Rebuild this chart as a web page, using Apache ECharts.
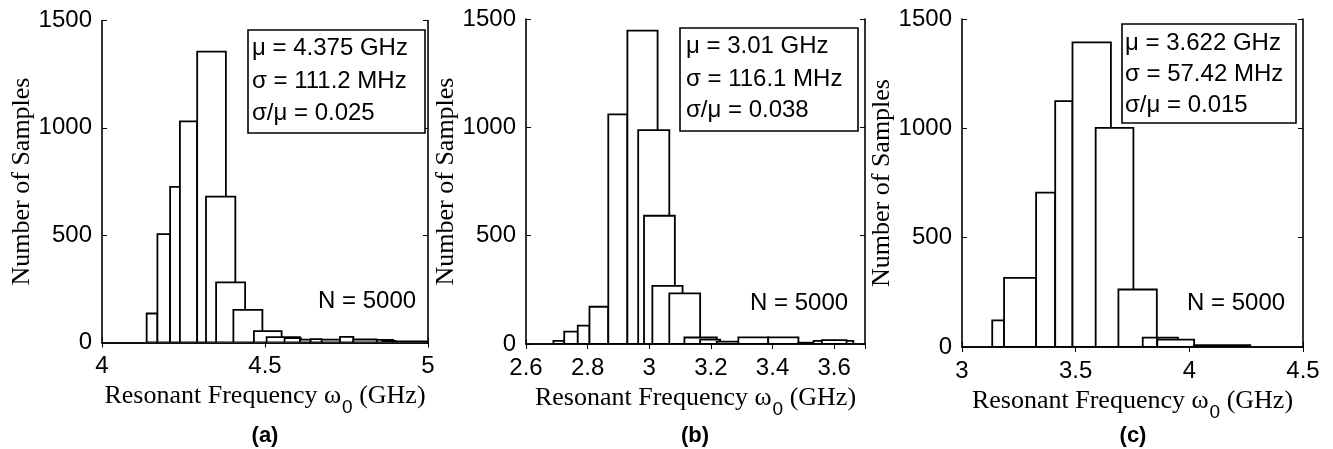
<!DOCTYPE html>
<html><head><meta charset="utf-8">
<script src="https://cdn.jsdelivr.net/npm/echarts@6/dist/echarts.min.js"></script>
<style>html,body{margin:0;padding:0;background:#fff}#c{width:1333px;height:449px}</style>
</head><body><div id="c"></div>
<script>
// Histogram bars: [binStart (GHz), binEnd (GHz), count], in drawing order
const histA = [
  [4.137,4.170,135],[4.170,4.209,505],[4.209,4.239,725],[4.239,4.292,1030],
  [4.292,4.380,1355],[4.319,4.409,680],[4.350,4.439,280],[4.403,4.492,152],
  [4.466,4.551,53],[4.505,4.607,25],[4.560,4.610,20],[4.607,4.640,13],
  [4.640,4.674,16],[4.674,4.730,13],[4.730,4.771,26],[4.771,4.843,14],
  [4.843,4.893,12],[4.860,4.900,8],[4.893,4.996,5]
];
const histB = [
  [2.689,2.724,14],[2.724,2.768,57],[2.768,2.806,85],[2.806,2.867,172],
  [2.867,2.929,1060],[2.929,3.027,1446],[2.964,3.065,987],[2.983,3.083,592],
  [3.010,3.108,268],[3.065,3.165,234],[3.114,3.219,30],[3.165,3.230,20],
  [3.219,3.289,11],[3.289,3.386,31],[3.386,3.484,31],[3.484,3.533,6],
  [3.533,3.662,14],[3.560,3.640,18]
];
const histC = [
  [3.133,3.185,122],[3.185,3.326,316],[3.326,3.410,706],[3.410,3.486,1124],
  [3.486,3.655,1393],[3.588,3.754,1002],[3.688,3.857,263],[3.795,3.859,43],
  [3.859,3.950,43],[3.859,4.021,34],[4.021,4.268,8],[4.030,4.250,5]
];
const xRanges = [[4, 5, 0.5], [2.6, 3.7, 0.2], [3, 4.5, 0.5]];
const yRange = [0, 1500, 500];
const statsText = [
  ['μ = 4.375 GHz', 'σ = 111.2 MHz', 'σ/μ = 0.025'],
  ['μ = 3.01 GHz', 'σ = 116.1 MHz', 'σ/μ = 0.038'],
  ['μ = 3.622 GHz', 'σ = 57.42 MHz', 'σ/μ = 0.015']
];
const nText = 'N = 5000';
const panelLabels = ['(a)', '(b)', '(c)'];
const xTitle = 'Resonant Frequency ω';
const yTitle = 'Number of Samples';

const hists = [histA, histB, histC];
const grids = [
  {left: 102, top: 20.5, width: 326, height: 322},
  {left: 526, top: 19, width: 339, height: 325},
  {left: 962, top: 19, width: 341, height: 328}
];
const boxes = [
  {x: 248, y: 30, w: 177, h: 103, tx: 252, ly: [48, 81.5, 113]},
  {x: 680, y: 28, w: 178, h: 103, tx: 686, ly: [46.5, 79.5, 110.5]},
  {x: 1122, y: 24, w: 174, h: 99, tx: 1125, ly: [43, 74, 105]}
];
const nPos = [[318, 301], [750, 303], [1187, 303]];
const subPos = [[265, 436], [695, 436], [1133, 436]];

const sans = 'Liberation Sans';
const serif = 'Liberation Serif';
const lineStyle = {color: '#000', width: 1.6};
const plain = v => String(Math.round(v * 1000) / 1000);

const option = {
  backgroundColor: '#fff',
  animation: false,
  grid: grids.map(g => Object.assign({containLabel: false}, g)),
  xAxis: [], yAxis: [], series: [], graphic: []
};

grids.forEach((g, i) => {
  const [xmin, xmax, xint] = xRanges[i];
  option.xAxis.push({
    type: 'value', gridIndex: i, min: xmin, max: xmax, interval: xint, position: 'bottom',
    axisLine: {show: true, lineStyle}, splitLine: {show: false},
    axisTick: {show: true, inside: true, length: 5, lineStyle: {color: '#000'}},
    axisLabel: {color: '#000', fontFamily: sans, fontSize: 24, margin: 12, showMaxLabel: i !== 1, formatter: plain},
    name: '{t|' + xTitle + '}{s|0}{t| (GHz)}', nameLocation: 'middle', nameGap: 38,
    nameTextStyle: {rich: {
      t: {fontFamily: serif, fontSize: 26, color: '#000', lineHeight: 30, verticalAlign: 'top'},
      s: {fontFamily: sans, fontSize: 19, color: '#000', lineHeight: 20, padding: [15, 0, 0, 1], verticalAlign: 'top'}
    }}
  });
  option.xAxis.push({
    type: 'value', gridIndex: i, min: xmin, max: xmax, interval: xint, position: 'top',
    axisLine: {show: true, lineStyle}, splitLine: {show: false},
    axisTick: {show: true, inside: true, length: 5, lineStyle: {color: '#000'}},
    axisLabel: {show: false}
  });
  option.yAxis.push({
    type: 'value', gridIndex: i, min: yRange[0], max: yRange[1], interval: yRange[2], position: 'left',
    axisLine: {show: true, lineStyle}, splitLine: {show: false},
    axisTick: {show: true, inside: true, length: 5, lineStyle: {color: '#000'}},
    axisLabel: {color: '#000', fontFamily: sans, fontSize: 24, margin: 10, formatter: plain},
    name: yTitle, nameLocation: 'middle', nameGap: 66,
    nameTextStyle: {fontFamily: serif, fontSize: 26, color: '#000'}
  });
  option.yAxis.push({
    type: 'value', gridIndex: i, min: yRange[0], max: yRange[1], interval: yRange[2], position: 'right',
    axisLine: {show: true, lineStyle}, splitLine: {show: false},
    axisTick: {show: true, inside: true, length: 5, lineStyle: {color: '#000'}},
    axisLabel: {show: false}
  });
  option.series.push({
    type: 'custom', xAxisIndex: 2 * i, yAxisIndex: 2 * i, clip: true,
    encode: {x: [0, 1], y: 2},
    data: hists[i],
    renderItem: function (params, api) {
      const p0 = api.coord([api.value(0), api.value(2)]);
      const p1 = api.coord([api.value(1), 0]);
      return {
        type: 'rect',
        shape: {x: p0[0], y: p0[1], width: p1[0] - p0[0], height: p1[1] - p0[1]},
        style: {fill: '#fff', stroke: '#000', lineWidth: 1.8}
      };
    }
  });
  const b = boxes[i];
  option.graphic.push({
    type: 'rect', shape: {x: b.x, y: b.y, width: b.w, height: b.h},
    style: {fill: '#fff', stroke: '#000', lineWidth: 1.6}, z: 100
  });
  statsText[i].forEach((t, k) => {
    option.graphic.push({
      type: 'text', x: b.tx, y: b.ly[k], z: 101,
      style: {text: t, fontFamily: sans, fontSize: 24, fill: '#000', verticalAlign: 'middle'}
    });
  });
  option.graphic.push({
    type: 'text', x: nPos[i][0], y: nPos[i][1], z: 101,
    style: {text: nText, fontFamily: sans, fontSize: 24, fill: '#000', verticalAlign: 'middle'}
  });
  option.graphic.push({
    type: 'text', x: subPos[i][0], y: subPos[i][1], z: 101,
    style: {text: panelLabels[i], fontFamily: sans, fontWeight: 'bold', fontSize: 22, fill: '#000', align: 'center', verticalAlign: 'middle'}
  });
});

const chart = echarts.init(document.getElementById('c'), null, {renderer: 'canvas'});
chart.setOption(option);
</script></body></html>
